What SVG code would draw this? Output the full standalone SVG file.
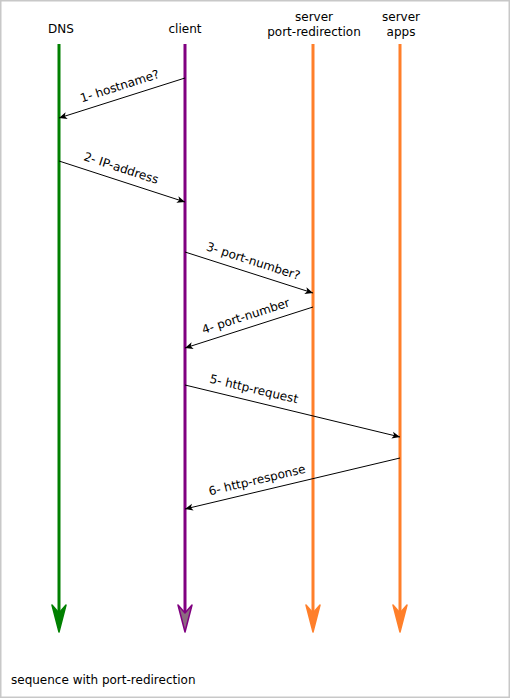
<svg xmlns="http://www.w3.org/2000/svg" width="510" height="698" viewBox="0 0 510 698">
<style>
text{font-family:"DejaVu Sans",sans-serif;font-size:12px;fill:#000}
.hd{text-anchor:middle}
.lbl{text-anchor:middle}
.msg{stroke:#000;stroke-width:1;fill:none;marker-end:url(#ah)}
.life{stroke-width:3;fill:none}
</style>
<defs>
<marker id="ah" markerUnits="userSpaceOnUse" markerWidth="12" markerHeight="10" refX="8" refY="5" orient="auto" viewBox="0 0 12 10">
<path d="M8,5 L0,1.5 L2,5 L0,8.5 Z" fill="#000"/>
</marker>
</defs>
<rect x="0.75" y="0.75" width="508.5" height="696.5" fill="#fff" stroke="#c8c8c8" stroke-width="1.5"/>
<g id="dns">
<text class="hd" x="61" y="33">DNS</text>
<line class="life" x1="59" y1="44" x2="59" y2="612" stroke="#008000"/>
<path d="M59,632 L52,605 L59,613 L66,605 Z" fill="#008000" stroke="#008000" stroke-width="1.5" stroke-linejoin="round"/>
</g>
<g id="client">
<text class="hd" x="185" y="33">client</text>
<line class="life" x1="185" y1="44" x2="185" y2="612" stroke="#800080"/>
<path d="M185,632 L178,605 L185,613 L192,605 Z" fill="#8c6a80" stroke="#800080" stroke-width="1.5" stroke-linejoin="round"/>
</g>
<g id="server-port-redirection">
<text class="hd" x="314" y="21">server</text>
<text class="hd" x="314" y="36">port-redirection</text>
<line class="life" x1="313" y1="44" x2="313" y2="612" stroke="#ff7f2a"/>
<path d="M313,632 L306,605 L313,613 L320,605 Z" fill="#ff7f2a" stroke="#ff7f2a" stroke-width="1.5" stroke-linejoin="round"/>
</g>
<g id="server-apps">
<text class="hd" x="401" y="21">server</text>
<text class="hd" x="401" y="36">apps</text>
<line class="life" x1="400" y1="44" x2="400" y2="612" stroke="#ff7f2a"/>
<path d="M400,632 L393,605 L400,613 L407,605 Z" fill="#ff7f2a" stroke="#ff7f2a" stroke-width="1.5" stroke-linejoin="round"/>
</g>
<g id="connectors">
<path class="msg" d="M185,78 L59,118"/>
<text class="lbl" x="121" y="90" transform="rotate(-17.6 121 90)">1- hostname?</text>
<path class="msg" d="M59,161 L185,202"/>
<text class="lbl" x="120" y="172" transform="rotate(18 120 172)">2- IP-address</text>
<path class="msg" d="M185,252 L313,293"/>
<text class="lbl" x="252" y="265" transform="rotate(17.8 252 265)">3- port-number?</text>
<path class="msg" d="M313,307 L185,348"/>
<text class="lbl" x="247" y="320" transform="rotate(-17.8 247 320)">4- port-number</text>
<path class="msg" d="M185,385 L400,437"/>
<text class="lbl" x="253" y="393" transform="rotate(13.3 253 393)">5- http-request</text>
<path class="msg" d="M400,458 L185,509"/>
<text class="lbl" x="258" y="484" transform="rotate(-13.4 258 484)">6- http-response</text>
</g>
<text x="11" y="684">sequence with port-redirection</text>
</svg>
